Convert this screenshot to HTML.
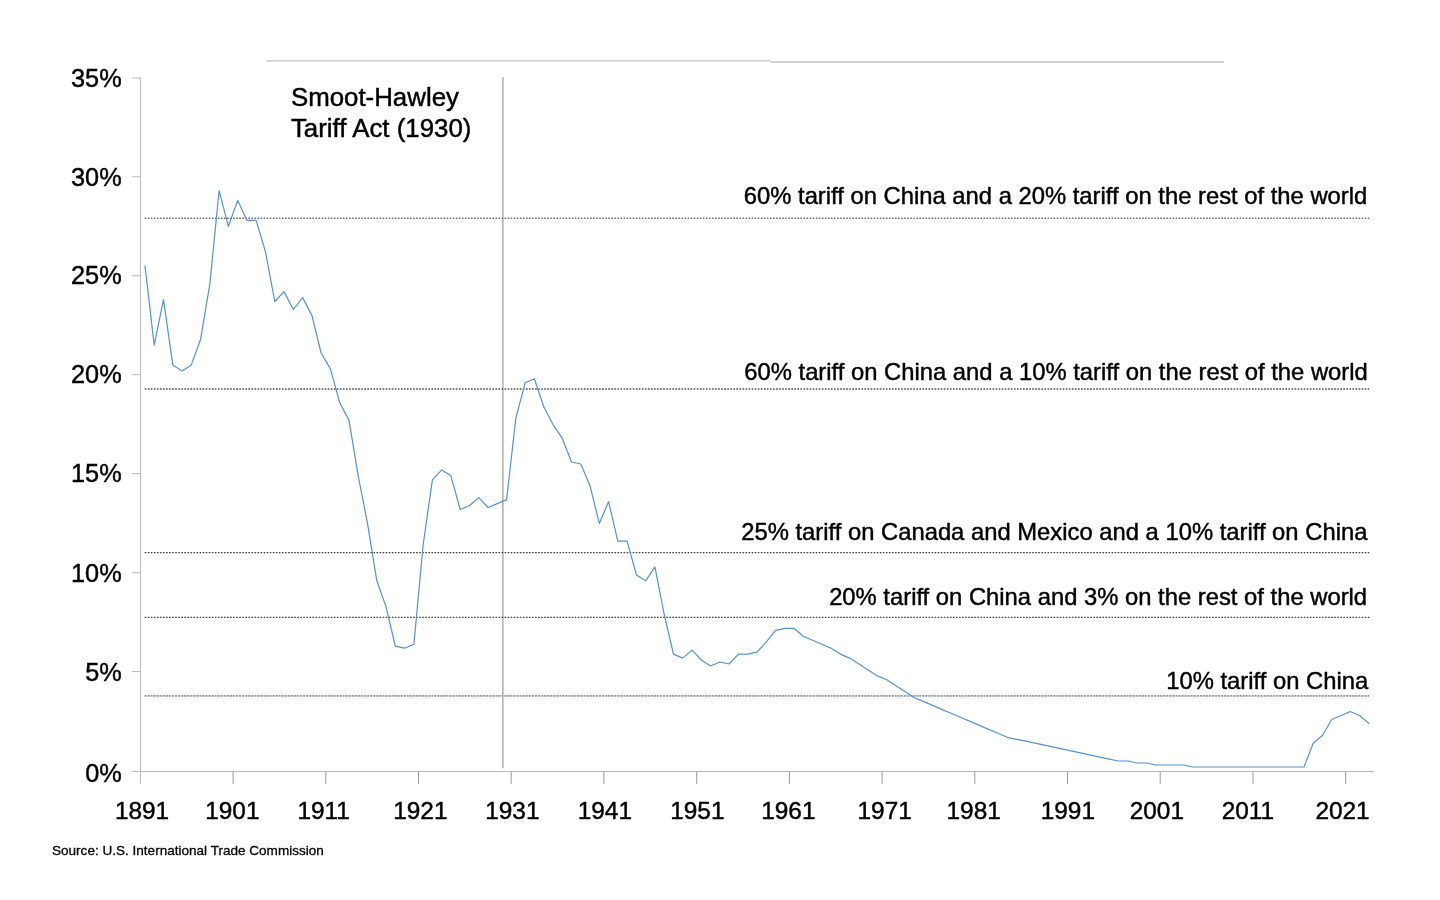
<!DOCTYPE html>
<html lang="en">
<head>
<meta charset="utf-8">
<title>U.S. average tariff rate</title>
<style>
html,body{margin:0;padding:0;background:#fff;}
body{width:1440px;height:900px;overflow:hidden;font-family:"Liberation Sans",sans-serif;}
svg{display:block;position:absolute;left:0;top:0;will-change:transform;}
text{font-family:"Liberation Sans",sans-serif;fill:#000;stroke:#000;stroke-width:0.45px;stroke-linejoin:round;}
.yl{font-size:25.3px;text-anchor:end;}
.xl{font-size:24.4px;text-anchor:start;}
.an{font-size:23.8px;text-anchor:end;}
.sh{font-size:25.85px;text-anchor:start;}
.src{font-size:13.55px;text-anchor:start;stroke-width:0.3px;}
</style>
</head>
<body>
<svg width="1440" height="900" viewBox="0 0 1440 900">
<!-- top rule -->
<path d="M266.4 60.9 H770.5" stroke="#c4c4c4" stroke-width="1.4" fill="none"/>
<path d="M770.5 62 H1224.2" stroke="#c0c0c0" stroke-width="1.4" fill="none"/>
<!-- axes -->
<g stroke="#b9b9b9" stroke-width="1" fill="none">
<path d="M140.5 77.5 V783.8"/>
<path d="M131.9 771.5 H1373.8"/>
<path d="M131.9 671.6 H140.5"/>
<path d="M131.9 572.7 H140.5"/>
<path d="M131.9 473.6 H140.5"/>
<path d="M131.9 374.7 H140.5"/>
<path d="M131.9 275.8 H140.5"/>
<path d="M131.9 176.8 H140.5"/>
<path d="M131.9 78.0 H140.5"/>
</g>
<g stroke="#9a9a9a" stroke-width="1" fill="none">
<path d="M233.1 771.5 V783.8"/>
<path d="M325.8 771.5 V783.8"/>
<path d="M418.5 771.5 V783.8"/>
<path d="M511.2 771.5 V783.8"/>
<path d="M603.9 771.5 V783.8"/>
<path d="M696.7 771.5 V783.8"/>
<path d="M789.4 771.5 V783.8"/>
<path d="M882.1 771.5 V783.8"/>
<path d="M974.8 771.5 V783.8"/>
<path d="M1067.5 771.5 V783.8"/>
<path d="M1160.2 771.5 V783.8"/>
<path d="M1253.0 771.5 V783.8"/>
<path d="M1345.7 771.5 V783.8"/>
</g>
<!-- Smoot-Hawley marker -->
<path d="M502.9 77.2 V768.2" stroke="#8e8e8e" stroke-width="1.1" fill="none"/>
<!-- scenario dotted lines -->
<path d="M144.7 218.2 H1369.2" stroke="#6e6e6e" stroke-width="1.6" stroke-dasharray="1.6 1.45" fill="none"/>
<path d="M144.7 388.9 H1369.2" stroke="#4a4a4a" stroke-width="1.5" stroke-dasharray="1.6 1.45" fill="none"/>
<path d="M144.7 552.6 H1369.2" stroke="#3c3c3c" stroke-width="1.2" stroke-dasharray="1.6 1.45" fill="none"/>
<path d="M144.7 617.3 H1369.2" stroke="#3c3c3c" stroke-width="1.2" stroke-dasharray="1.6 1.45" fill="none"/>
<path d="M144.7 695.9 H1369.2" stroke="#d9e2ec" stroke-width="1.6" fill="none"/>
<path d="M144.7 695.9 H1369.2" stroke="#8a929b" stroke-width="1.6" stroke-dasharray="1.6 1.45" fill="none"/>
<!-- tariff series -->
<polyline points="145.0,265.9 154.2,345.1 163.5,299.6 172.8,364.9 182.1,370.9 191.3,364.9 200.6,339.2 209.9,283.7 219.1,190.6 228.4,226.3 237.7,200.5 247.0,220.3 256.2,220.3 265.5,252.0 274.8,301.5 284.0,291.6 293.3,309.5 302.6,297.6 311.9,315.4 321.1,353.0 330.4,368.9 339.7,402.6 349.0,420.4 358.2,475.8 367.5,523.4 376.8,580.8 386.0,606.6 395.3,646.2 404.6,648.2 413.9,644.2 423.1,545.2 432.4,479.8 441.7,469.9 450.9,475.8 460.2,509.5 469.5,505.5 478.8,497.6 488.0,507.5 497.3,503.6 506.6,499.6 515.8,418.4 525.1,382.8 534.4,378.8 543.7,406.5 552.9,424.3 562.2,438.2 571.5,462.0 580.8,464.0 590.0,485.7 599.3,523.4 608.6,501.6 617.8,541.2 627.1,541.2 636.4,574.9 645.7,580.8 654.9,566.9 664.2,614.5 673.5,654.1 682.7,658.1 692.0,650.1 701.3,660.0 710.6,666.0 719.8,662.0 729.1,664.0 738.4,654.1 747.6,654.1 756.9,652.1 766.2,642.2 775.5,630.3 784.7,628.3 794.0,628.3 803.3,636.3 812.6,640.2 821.8,644.2 831.1,648.2 840.4,654.1 849.6,658.1 858.9,664.0 868.2,669.9 877.5,675.9 886.7,679.8 896.0,685.8 905.3,691.7 914.5,697.7 923.8,701.6 933.1,705.6 942.4,709.6 951.6,713.5 960.9,717.5 970.2,721.4 979.4,725.4 988.7,729.4 998.0,733.3 1007.3,737.3 1016.5,739.3 1025.8,741.2 1035.1,743.2 1044.3,745.2 1053.6,747.2 1062.9,749.2 1072.2,751.1 1081.4,753.1 1090.7,755.1 1100.0,757.1 1109.3,759.1 1118.5,761.0 1127.8,761.0 1137.1,763.0 1146.3,763.0 1155.6,765.0 1164.9,765.0 1174.2,765.0 1183.4,765.0 1192.7,767.0 1202.0,767.0 1211.2,767.0 1220.5,767.0 1229.8,767.0 1239.1,767.0 1248.3,767.0 1257.6,767.0 1266.9,767.0 1276.1,767.0 1285.4,767.0 1294.7,767.0 1304.0,767.0 1313.2,743.2 1322.5,735.3 1331.8,719.5 1341.1,715.5 1350.3,711.5 1359.6,715.5 1368.9,723.4" fill="none" stroke="#5692cf" stroke-width="1.2" stroke-linejoin="round" stroke-linecap="round"/>
<!-- y labels -->
<text class="yl" x="121.7" y="782.0">0%</text>
<text class="yl" x="121.7" y="681.3">5%</text>
<text class="yl" x="121.7" y="582.0">10%</text>
<text class="yl" x="121.7" y="481.9">15%</text>
<text class="yl" x="121.7" y="383.3">20%</text>
<text class="yl" x="121.7" y="284.1">25%</text>
<text class="yl" x="121.7" y="185.7">30%</text>
<text class="yl" x="121.7" y="87.3">35%</text>
<!-- x labels -->
<text class="xl" x="114.9" y="819">1891</text>
<text class="xl" x="205.2" y="819">1901</text>
<text class="xl" x="297.4" y="819">1911</text>
<text class="xl" x="393.2" y="819">1921</text>
<text class="xl" x="485.2" y="819">1931</text>
<text class="xl" x="577.7" y="819">1941</text>
<text class="xl" x="670.2" y="819">1951</text>
<text class="xl" x="761.2" y="819">1961</text>
<text class="xl" x="857.5" y="819">1971</text>
<text class="xl" x="946.5" y="819">1981</text>
<text class="xl" x="1040.7" y="819">1991</text>
<text class="xl" x="1129.7" y="819">2001</text>
<text class="xl" x="1221.7" y="819">2011</text>
<text class="xl" x="1315.4" y="819">2021</text>
<!-- annotations -->
<text class="an" x="1367.3" y="203.8">60% tariff on China and a 20% tariff on the rest of the world</text>
<text class="an" x="1367.8" y="380.2">60% tariff on China and a 10% tariff on the rest of the world</text>
<text class="an" x="1367.4" y="539.7">25% tariff on Canada and Mexico and a 10% tariff on China</text>
<text class="an" x="1367.1" y="605.4">20% tariff on China and 3% on the rest of the world</text>
<text class="an" x="1368.2" y="688.5">10% tariff on China</text>
<text class="sh" x="290.9" y="105.9">Smoot-Hawley</text>
<text class="sh" x="290.9" y="136.8">Tariff Act (1930)</text>
<text class="src" x="52" y="854.5">Source: U.S. International Trade Commission</text>
</svg>
</body>
</html>
